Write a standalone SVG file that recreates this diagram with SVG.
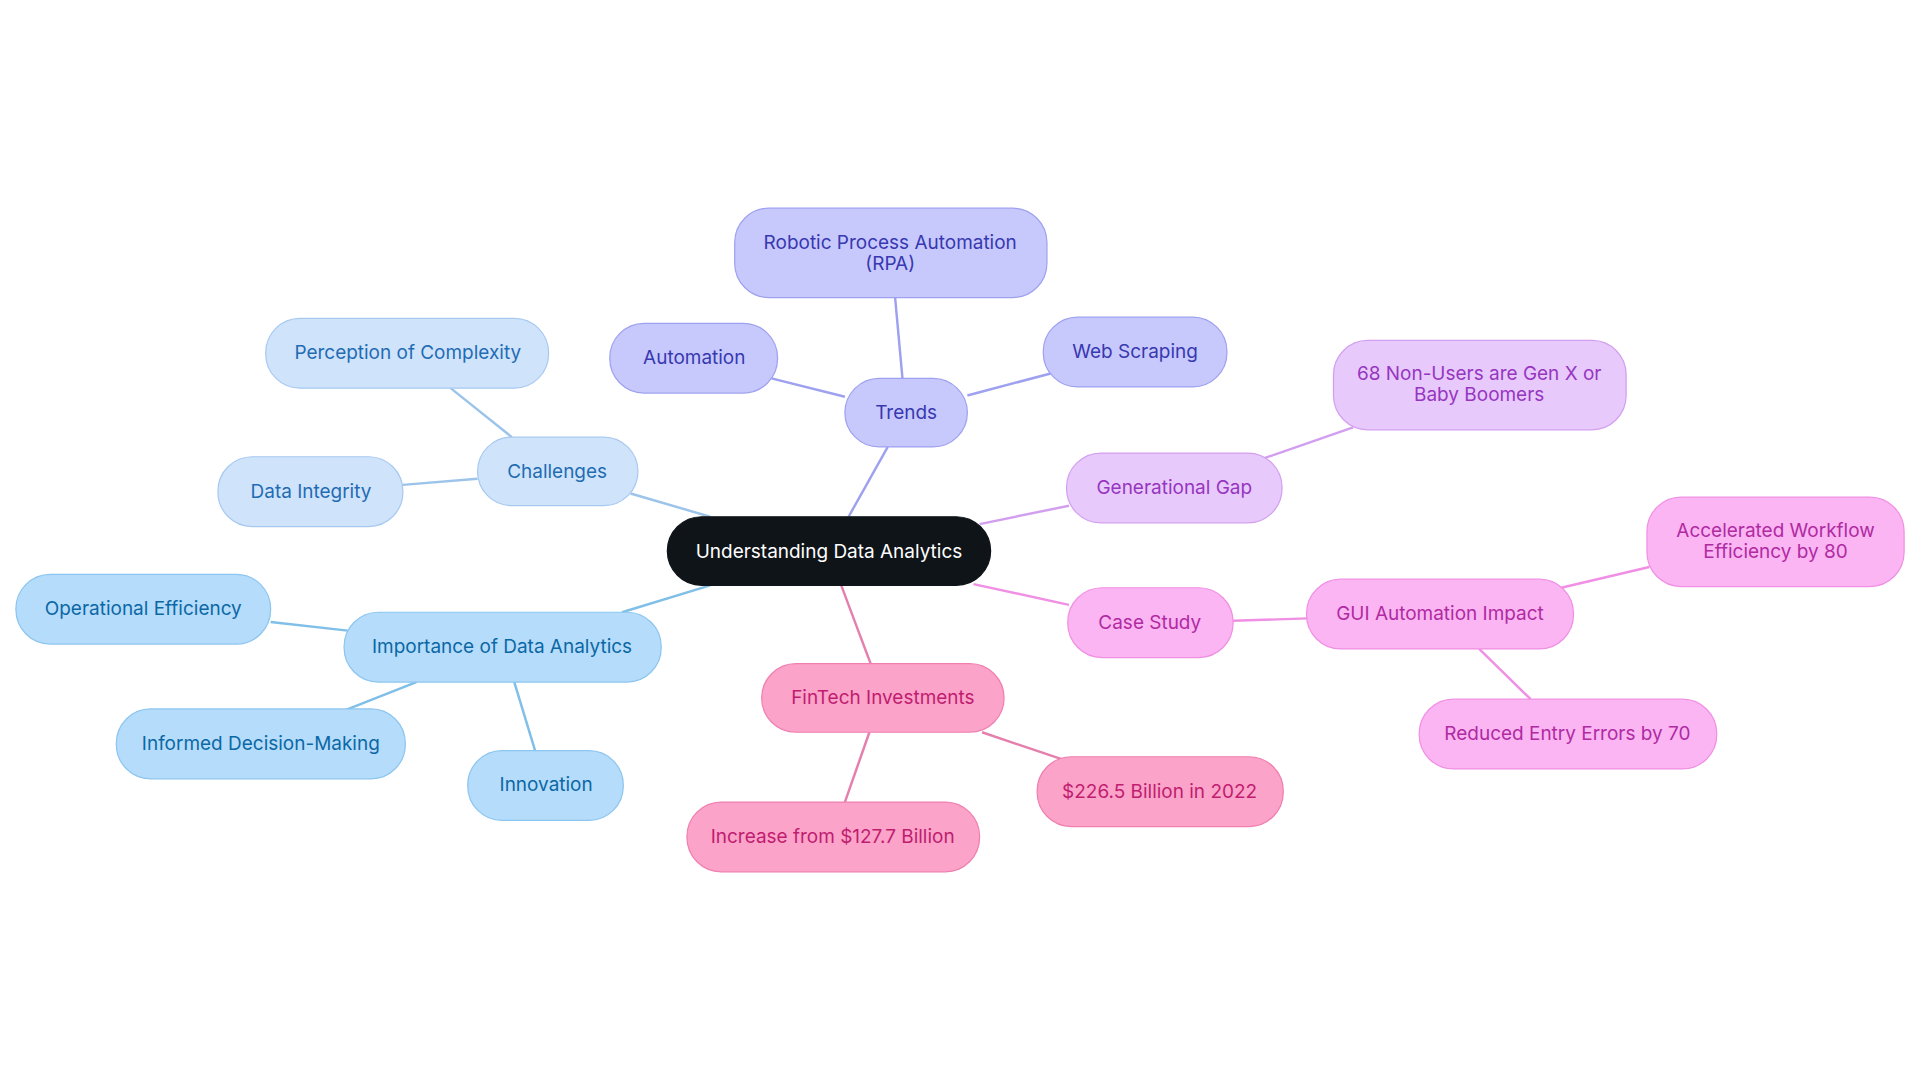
<svg xmlns="http://www.w3.org/2000/svg" width="1920" height="1083" viewBox="0 0 1920 1083">
<style>
text{font-family:Inter,"Noto Sans",sans-serif;font-size:15.5px;text-anchor:middle;dominant-baseline:central}
.c rect{fill:#0f1419;stroke:#0f1419}.c text{fill:#fff}
.t rect{fill:#c7c9fc;stroke:#9ea1ef}.t text{fill:#3838b0}
.h rect{fill:#cfe3fb;stroke:#a7c9f0}.h text{fill:#1f6cb3}
.i rect{fill:#b5dcfb;stroke:#8cc5ef}.i text{fill:#0b68a5}
.g rect{fill:#e8c9fb;stroke:#d29ff0}.g text{fill:#9636c0}
.s rect{fill:#fbb5f3;stroke:#f08fe4}.s text{fill:#b02aa2}
.f rect{fill:#fca3c9;stroke:#f07fb0}.f text{fill:#c01c70}
rect{stroke-width:1}
#edges line{stroke-width:2}
</style>
<rect width="1920" height="1083" fill="#fff"/>
<g transform="scale(1.2245)">
<g id="edges">
<line x1="693" y1="422" x2="725" y2="365" stroke="#9ea1ef"/>
<line x1="737" y1="309" x2="731" y2="243" stroke="#9ea1ef"/>
<line x1="690" y1="324" x2="630" y2="309" stroke="#9ea1ef"/>
<line x1="790" y1="323" x2="858" y2="305" stroke="#9ea1ef"/>
<line x1="580" y1="422" x2="515" y2="403" stroke="#9cc4ea"/>
<line x1="418" y1="357" x2="368" y2="317" stroke="#9cc4ea"/>
<line x1="390" y1="391" x2="329" y2="396" stroke="#9cc4ea"/>
<line x1="580" y1="478" x2="508" y2="500" stroke="#7fbfe8"/>
<line x1="284" y1="515" x2="221" y2="508" stroke="#7fbfe8"/>
<line x1="340" y1="557" x2="282" y2="580" stroke="#7fbfe8"/>
<line x1="420" y1="557" x2="437" y2="613" stroke="#7fbfe8"/>
<line x1="800" y1="428" x2="873" y2="413" stroke="#d29ff0"/>
<line x1="1033" y1="374" x2="1105" y2="349" stroke="#d29ff0"/>
<line x1="795" y1="477" x2="873" y2="494" stroke="#f08fe4"/>
<line x1="1007" y1="507" x2="1068" y2="505" stroke="#f08fe4"/>
<line x1="1275" y1="480" x2="1347" y2="463" stroke="#f08fe4"/>
<line x1="1208" y1="530" x2="1250" y2="571" stroke="#f08fe4"/>
<line x1="687" y1="478" x2="711" y2="542" stroke="#e57fae"/>
<line x1="802" y1="598" x2="867" y2="620" stroke="#e57fae"/>
<line x1="710" y1="598" x2="690" y2="655" stroke="#e57fae"/>
</g>
<g id="center" class="c"><rect x="545" y="422" width="264" height="56" rx="28"/><text x="677" y="450">Understanding Data Analytics</text></g>
<g id="trends" class="t"><rect x="690" y="309" width="100" height="56" rx="28"/><text x="740" y="337">Trends</text></g>
<g id="rpa" class="t"><rect x="600" y="170" width="255" height="73" rx="28"/><text x="727" y="198">Robotic Process Automation</text><text x="727" y="215">(RPA)</text></g>
<g id="automation" class="t"><rect x="498" y="264" width="137" height="57" rx="28"/><text x="567" y="292">Automation</text></g>
<g id="webscraping" class="t"><rect x="852" y="259" width="150" height="57" rx="28"/><text x="927" y="287">Web Scraping</text></g>
<g id="challenges" class="h"><rect x="390" y="357" width="131" height="56" rx="28"/><text x="455" y="385">Challenges</text></g>
<g id="perception" class="h"><rect x="217" y="260" width="231" height="57" rx="28"/><text x="333" y="288">Perception of Complexity</text></g>
<g id="integrity" class="h"><rect x="178" y="373" width="151" height="57" rx="28"/><text x="254" y="401">Data Integrity</text></g>
<g id="importance" class="i"><rect x="281" y="500" width="259" height="57" rx="28"/><text x="410" y="528">Importance of Data Analytics</text></g>
<g id="operational" class="i"><rect x="13" y="469" width="208" height="57" rx="28"/><text x="117" y="497">Operational Efficiency</text></g>
<g id="informed" class="i"><rect x="95" y="579" width="236" height="57" rx="28"/><text x="213" y="607">Informed Decision-Making</text></g>
<g id="innovation" class="i"><rect x="382" y="613" width="127" height="57" rx="28"/><text x="446" y="641">Innovation</text></g>
<g id="generational" class="g"><rect x="871" y="370" width="176" height="57" rx="28"/><text x="959" y="398">Generational Gap</text></g>
<g id="nonusers" class="g"><rect x="1089" y="278" width="239" height="73" rx="28"/><text x="1208" y="305">68 Non-Users are Gen X or</text><text x="1208" y="322">Baby Boomers</text></g>
<g id="casestudy" class="s"><rect x="872" y="480" width="135" height="57" rx="28"/><text x="939" y="508">Case Study</text></g>
<g id="gui" class="s"><rect x="1067" y="473" width="218" height="57" rx="28"/><text x="1176" y="501">GUI Automation Impact</text></g>
<g id="accelerated" class="s"><rect x="1345" y="406" width="210" height="73" rx="28"/><text x="1450" y="433">Accelerated Workflow</text><text x="1450" y="450">Efficiency by 80</text></g>
<g id="reduced" class="s"><rect x="1159" y="571" width="243" height="57" rx="28"/><text x="1280" y="599">Reduced Entry Errors by 70</text></g>
<g id="fintech" class="f"><rect x="622" y="542" width="198" height="56" rx="28"/><text x="721" y="570">FinTech Investments</text></g>
<g id="billion" class="f"><rect x="847" y="618" width="201" height="57" rx="28"/><text x="947" y="646">$226.5 Billion in 2022</text></g>
<g id="increase" class="f"><rect x="561" y="655" width="239" height="57" rx="28"/><text x="680" y="683">Increase from $127.7 Billion</text></g>
</g>
</svg>
